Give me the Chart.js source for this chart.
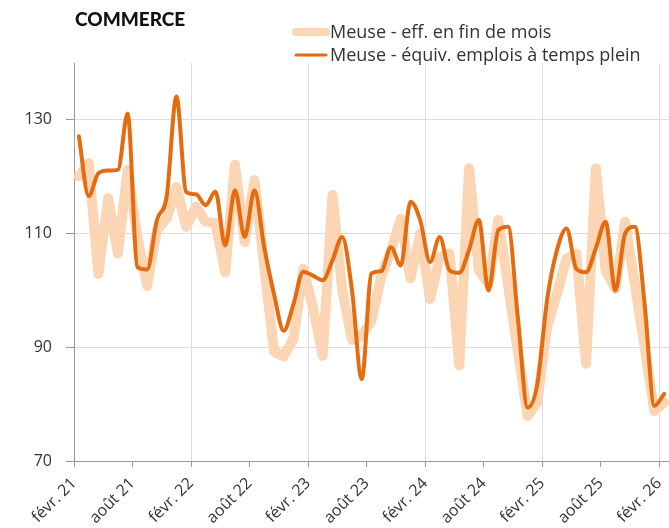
<!DOCTYPE html>
<html lang="fr">
<head>
<meta charset="utf-8">
<script src="https://cdn.jsdelivr.net/npm/chart.js@4/dist/chart.umd.min.js"></script>
<style>
  html, body { margin: 0; padding: 0; background: #fff; overflow: hidden; }
  #chart { display: block; }
</style>
</head>
<body>
<canvas id="chart" width="669" height="528"></canvas>
<script>
// Mois (févr. 21 -> févr. 26)
var moisNoms = ['janv.', 'févr.', 'mars', 'avr.', 'mai', 'juin', 'juil.', 'août', 'sept.', 'oct.', 'nov.', 'déc.'];
var mois = [];
for (var i = 0; i < 61; i++) {
  var m = (1 + i) % 12;
  var a = 21 + Math.floor((1 + i) / 12);
  mois.push(moisNoms[m] + ' ' + a);
}

// Meuse - eff. en fin de mois
var effectifs = [
  120.1, 122.4, 102.9, 116.2, 106.5, 121.2, 109.4, 100.8, 110.6, 112.6, 118.2, 111.2,
  114.7, 112.1, 111.8, 103.2, 122.1, 108.5, 119.4, 104.3, 89.2, 88.4, 91.5, 103.8,
  97.0, 88.5, 116.8, 100.0, 91.3, 92.0, 94.7, 102.4, 107.1, 112.6, 102.1, 110.0,
  98.5, 105.9, 106.5, 86.8, 121.5, 103.5, 101.2, 112.4, 100.9, 89.4, 77.9, 80.3,
  93.5, 99.4, 105.6, 106.5, 87.1, 121.5, 103.5, 100.3, 112.1, 101.0, 90.0, 78.8,
  80.3
];

// Meuse - équiv. emplois à temps plein
var etp = [
  127.1, 116.6, 120.6, 121.1, 121.2, 131.1, 104.1, 103.7, 112.4, 116.5, 134.1, 117.3,
  116.9, 115.0, 117.4, 107.9, 117.6, 109.4, 117.6, 107.6, 99.4, 92.9, 97.6, 103.3,
  102.6, 101.8, 105.3, 109.4, 100.0, 84.4, 103.0, 103.4, 107.6, 104.4, 115.6, 112.3,
  105.0, 109.4, 103.5, 103.1, 107.1, 112.4, 100.0, 110.6, 111.2, 95.3, 79.4, 83.5,
  98.3, 107.0, 110.9, 103.8, 103.2, 107.4, 112.1, 100.0, 110.0, 111.2, 97.6, 79.7,
  81.8
];

var xTicks = [0, 6, 12, 18, 24, 30, 36, 42, 48, 54, 60];
var yTicks = [70, 90, 110, 130];
var titre = 'COMMERCE';

function points(serie) {
  return serie.map(function (v, i) { return { x: i + 0.5, y: v }; });
}

// titre + légende dessinés en haut
var entete = {
  id: 'entete',
  afterDraw: function (chart) {
    var c = chart.ctx;
    c.save();
    c.textBaseline = 'middle';
    c.fillStyle = '#111';
    c.font = '900 19px Lato';
    c.fillText(titre, 75, 20);
    c.font = '18px "Open Sans"';
    chart.data.datasets.forEach(function (ds, k) {
      var y = 32 + k * 23;
      c.strokeStyle = ds.borderColor;
      c.lineWidth = k === 0 ? 8 : 3;
      c.lineCap = 'round';
      c.beginPath();
      c.moveTo(296, y);
      c.lineTo(326, y);
      c.stroke();
      c.fillStyle = '#333';
      c.fillText(ds.label, 330, y + 1);
    });
    c.restore();
  }
};

var ctx = document.getElementById('chart').getContext('2d');
var chart = new Chart(ctx, {
  type: 'line',
  data: {
    datasets: [{
      label: 'Meuse - eff. en fin de mois',
      data: points(effectifs),
      borderColor: '#fcd5b4',
      borderWidth: 10,
      tension: 0,
      borderCapStyle: 'round',
      borderJoinStyle: 'round',
      pointRadius: 0,
      order: 2
    }, {
      label: 'Meuse - équiv. emplois à temps plein',
      data: points(etp),
      borderColor: '#e56b0e',
      borderWidth: 4,
      cubicInterpolationMode: 'monotone',
      borderCapStyle: 'round',
      pointRadius: 0,
      order: 1
    }]
  },
  options: {
    responsive: false,
    animation: false,
    layout: { padding: { top: 63, left: 0, right: 0, bottom: 0 } },
    plugins: {
      legend: { display: false },
      tooltip: { enabled: false }
    },
    scales: {
      x: {
        type: 'linear',
        min: 0,
        max: 61,
        afterBuildTicks: function (s) { s.ticks = xTicks.map(function (v) { return { value: v }; }); },
        afterFit: function (s) {
          s.height = 67;
          s.paddingLeft = 0;
          s.paddingRight = 0;
        },
        ticks: {
          autoSkip: false,
          minRotation: 45,
          maxRotation: 45,
          padding: 7,
          color: '#333',
          font: { family: 'Open Sans', size: 16 },
          callback: function (v) { return mois[v]; }
        },
        grid: {
          color: function (c) { return c.tick && c.tick.value % 12 === 0 ? '#dddddd' : 'rgba(0,0,0,0)'; },
          tickColor: '#999',
          tickLength: 6
        },
        border: { color: '#999' }
      },
      y: {
        min: 70,
        max: 140,
        afterBuildTicks: function (s) { s.ticks = yTicks.map(function (v) { return { value: v }; }); },
        afterFit: function (s) {
          s.width = 74;
          s.paddingTop = 0;
          s.paddingBottom = 0;
        },
        ticks: {
          padding: 14,
          color: '#333',
          font: { family: 'Open Sans', size: 16 }
        },
        grid: { color: '#dddddd', tickColor: '#999', tickLength: 8 },
        border: { color: '#999' }
      }
    }
  },
  plugins: [entete]
});
</script>
</body>
</html>
